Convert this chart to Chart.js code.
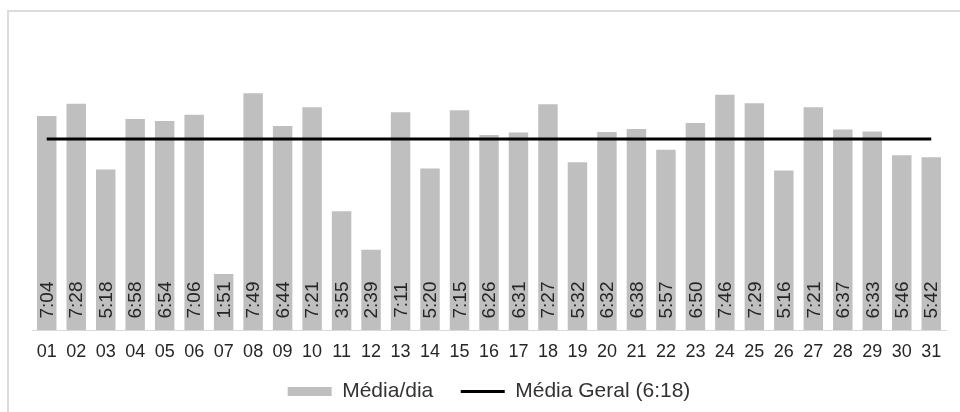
<!DOCTYPE html>
<html lang="pt">
<head>
<meta charset="utf-8">
<script src="https://cdn.jsdelivr.net/npm/chart.js@4/dist/chart.umd.min.js"></script>
<style>
  html, body { margin: 0; padding: 0; background: #fff; }
  #wrap { position: relative; width: 960px; height: 412px; }
  #moldura { position: absolute; left: 7px; top: 10px; right: 0; bottom: 0;
             border-top: 2px solid #dcdcdc; border-left: 2px solid #dcdcdc; }
  #grafico { position: absolute; left: 0; top: 0; }
</style>
</head>
<body>
<div id="wrap">
  <div id="moldura"></div>
  <canvas id="grafico" width="960" height="412"></canvas>
</div>
<script>
// Dias do mês
const dias = ['01','02','03','04','05','06','07','08','09','10','11','12','13','14','15','16',
  '17','18','19','20','21','22','23','24','25','26','27','28','29','30','31'];

// Média por dia em minutos (7:04 = 424 ...)
const mediaDia = [424, 448, 318, 418, 414, 426, 111, 469, 404, 441, 235, 159, 431, 320, 435, 386,
  391, 447, 332, 392, 398, 357, 410, 466, 449, 316, 441, 397, 393, 346, 342];

// Média geral 6:18 = 378 min
const mediaGeral = [378, 378, 378, 378, 378, 378, 378, 378, 378, 378, 378, 378, 378, 378, 378, 378,
  378, 378, 378, 378, 378, 378, 378, 378, 378, 378, 378, 378, 378, 378, 378];

const fmtHora = (min) => Math.floor(min / 60) + ':' + String(min % 60).padStart(2, '0');

// Rótulos verticais dentro das barras
const rotulosBarras = {
  id: 'rotulosBarras',
  afterDatasetsDraw(chart) {
    const meta = chart.getDatasetMeta(0);
    const ctx = chart.ctx;
    ctx.save();
    ctx.font = '19px "Liberation Sans", Arial, sans-serif';
    ctx.fillStyle = '#262626';
    ctx.textAlign = 'center';
    ctx.textBaseline = 'middle';
    meta.data.forEach((bar, i) => {
      ctx.save();
      ctx.translate(bar.x, bar.base - 30);
      ctx.rotate(-Math.PI / 2);
      ctx.fillText(fmtHora(mediaDia[i]), 0, 1);
      ctx.restore();
    });
    ctx.restore();
  }
};

new Chart(document.getElementById('grafico'), {
  type: 'bar',
  data: {
    labels: dias,
    datasets: [
      {
        type: 'bar',
        label: 'Média/dia',
        data: mediaDia,
        backgroundColor: '#bfbfbf',
        borderWidth: 0,
        categoryPercentage: 1,
        barPercentage: 0.66,
        order: 2
      },
      {
        type: 'line',
        label: 'Média Geral (6:18)',
        data: mediaGeral,
        borderColor: '#000000',
        backgroundColor: '#000000',
        borderWidth: 3,
        pointRadius: 0,
        tension: 0,
        order: 1
      }
    ]
  },
  options: {
    responsive: false,
    animation: false,
    layout: { padding: { left: 32, right: 14, top: 27, bottom: 0 } },
    scales: {
      x: {
        grid: { display: false, drawTicks: false },
        border: { display: true, color: '#d9d9d9', width: 1 },
        ticks: {
          autoSkip: false,
          maxRotation: 0,
          padding: 11,
          color: '#262626',
          font: { family: '"Liberation Sans", Arial, sans-serif', size: 18 }
        },
        // eixo um pouco mais alto que os rótulos, para a base ficar em y=330
        afterFit(scale) { scale.height = 41; }
      },
      y: {
        display: false,
        min: 0,
        max: 600
      }
    },
    plugins: {
      tooltip: { enabled: false },
      legend: {
        position: 'bottom',
        labels: {
          usePointStyle: true,
          pointStyleWidth: 44,
          boxHeight: 9,
          padding: 10,
          color: '#333333',
          font: { family: '"Liberation Sans", Arial, sans-serif', size: 21 },
          generateLabels(chart) {
            return chart.data.datasets.map((ds, i) => ({
              // espaços no fim do primeiro item = afastamento entre itens
              text: ds.type === 'line' ? ds.label : ds.label + '   ',
              datasetIndex: i,
              fillStyle: ds.backgroundColor,
              strokeStyle: ds.type === 'line' ? ds.borderColor : ds.backgroundColor,
              lineWidth: ds.type === 'line' ? 3 : 0,
              pointStyle: ds.type === 'line' ? 'line' : 'rect',
              fontColor: '#333333',
              hidden: false
            }));
          }
        }
      }
    }
  },
  plugins: [rotulosBarras]
});
</script>
</body>
</html>
